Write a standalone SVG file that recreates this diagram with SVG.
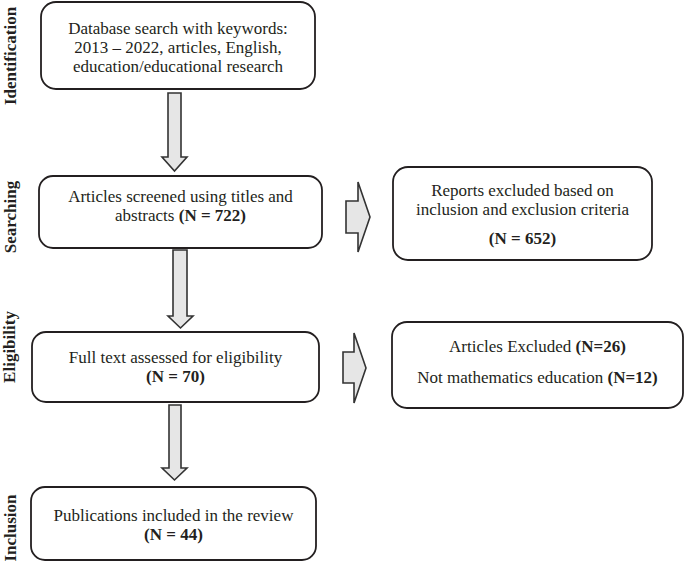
<svg xmlns="http://www.w3.org/2000/svg" width="685" height="562" viewBox="0 0 685 562">
<style>
.box{fill:#fff;stroke:#231f20;stroke-width:1.8}
.arr{fill:#e6e6e6;stroke:#333;stroke-width:1.6;stroke-linejoin:miter}
text{font-family:"Liberation Serif","Times New Roman",serif;font-size:17px;fill:#231f20}
.c{text-anchor:middle}
.b{font-weight:bold}
.lab{font-weight:bold;text-anchor:middle}
</style>
<rect width="685" height="562" fill="#fff"/>
<g id="labels">
<text class="lab" transform="translate(16,56) rotate(-90)">Identification</text>
<text class="lab" transform="translate(16,217) rotate(-90)">Searching</text>
<text class="lab" transform="translate(15,347) rotate(-90)">Eligibility</text>
<text class="lab" transform="translate(16,528) rotate(-90)">Inclusion</text>
</g>
<g id="connectors">
<polygon class="arr" points="168,93 181,93 181,157 187,157 174.5,171 162,157 168,157"/>
<polygon class="arr" points="173,250 187,250 187,316 193,316 180.5,328 168,316 173,316"/>
<polygon class="arr" points="169,405 181,405 181,468 187,468 174.5,480 162,468 169,468"/>
<polygon class="arr" points="346,201 358,201 358,182 370,217 358,252 358,233 346,233"/>
<polygon class="arr" points="343,352 354,352 354,333 366,368 354,403 354,383 343,383"/>
</g>
<g id="n1">
<rect class="box" x="41" y="2" width="274" height="87" rx="15"/>
<text class="c" x="178" y="34">Database search with keywords:</text>
<text class="c" x="178" y="53">2013 – 2022, articles, English,</text>
<text class="c" x="178" y="72">education/educational research</text>
</g>
<g id="n2">
<rect class="box" x="39" y="176" width="283" height="72" rx="14"/>
<text class="c" x="180.5" y="202">Articles screened using titles and</text>
<text class="c" x="180.5" y="221">abstracts <tspan class="b">(N = 722)</tspan></text>
</g>
<g id="n3">
<rect class="box" x="32" y="332" width="287" height="70" rx="14"/>
<text class="c" x="175.5" y="363">Full text assessed for eligibility</text>
<text class="c b" x="175.5" y="382">(N = 70)</text>
</g>
<g id="n4">
<rect class="box" x="31" y="487" width="285" height="73" rx="14"/>
<text class="c" x="173.5" y="521">Publications included in the review</text>
<text class="c b" x="173.5" y="540">(N = 44)</text>
</g>
<g id="n5">
<rect class="box" x="393" y="167" width="259" height="93" rx="15"/>
<text class="c" x="522.5" y="196">Reports excluded based on</text>
<text class="c" x="522.5" y="215">inclusion and exclusion criteria</text>
<text class="c b" x="522.5" y="244">(N = 652)</text>
</g>
<g id="n6">
<rect class="box" x="392" y="322" width="291" height="86" rx="15"/>
<text class="c" x="537.5" y="352">Articles Excluded <tspan class="b">(N=26)</tspan></text>
<text class="c" x="537.5" y="383">Not mathematics education <tspan class="b">(N=12)</tspan></text>
</g>
</svg>
